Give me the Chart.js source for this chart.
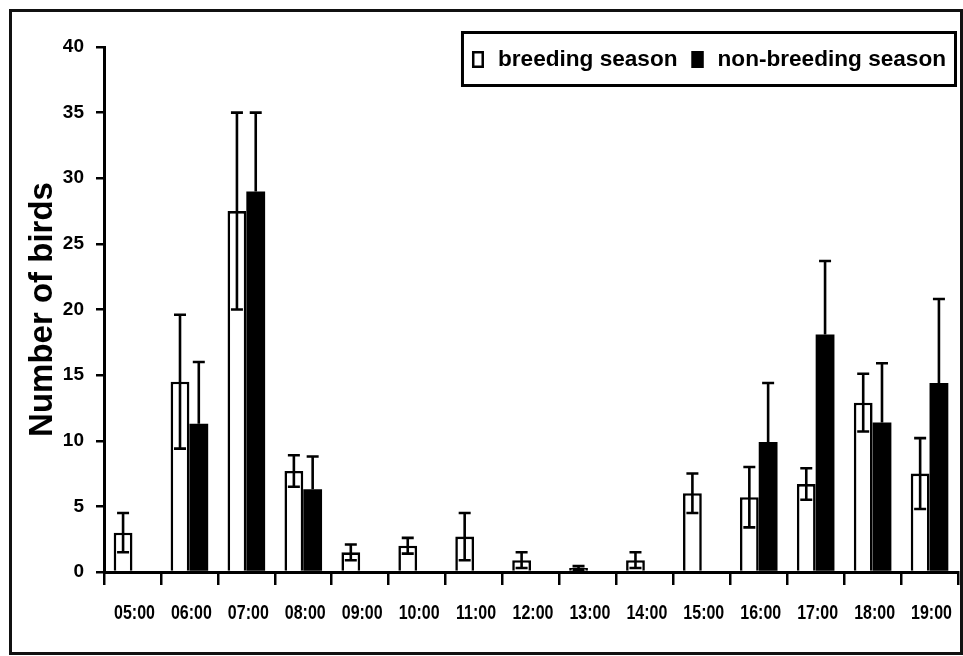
<!DOCTYPE html>
<html>
<head>
<meta charset="utf-8">
<script src="https://cdn.jsdelivr.net/npm/chart.js@4.4.0/dist/chart.umd.min.js"></script>
<style>
  body { margin: 0; background: #fff; }
  #wrap { position: relative; width: 963px; height: 656px; }
  #frame { position: absolute; left: 9px; top: 9px; width: 948px; height: 640px; border: 3px solid #111; pointer-events: none; }
  canvas { position: absolute; left: 0; top: 0; }
</style>
</head>
<body>
<div id="wrap">
  <canvas id="birdsChart" width="963" height="656"></canvas>
  <div id="frame"></div>
</div>
<script>
const hours = ['05:00', '06:00', '07:00', '08:00', '09:00', '10:00', '11:00', '12:00',
               '13:00', '14:00', '15:00', '16:00', '17:00', '18:00', '19:00'];
const breeding      = [3.0, 14.5, 27.5, 7.7, 1.5, 2.0, 2.7, 0.9, 0.3, 0.9, 6.0, 5.7, 6.7, 12.9, 7.5];
const breedingSd    = [1.5, 5.1, 7.5, 1.2, 0.6, 0.6, 1.8, 0.6, 0.15, 0.6, 1.5, 2.3, 1.2, 2.2, 2.7];
const nonBreeding   = [0, 11.3, 29.0, 6.3, 0, 0, 0, 0, 0, 0, 0, 9.9, 18.1, 11.4, 14.4];
const nonBreedingSd = [0, 4.7, 6.0, 2.5, 0, 0, 0, 0, 0, 0, 0, 4.5, 5.6, 4.5, 6.4];
const yTicks = [0, 5, 10, 15, 20, 25, 30, 35, 40];

const sans = "'Liberation Sans', Arial, sans-serif";

// error bars: breeding both ways, non-breeding only upward (lower half hidden in the black bar)
const errorBars = {
    id: 'errorBars',
    afterDatasetsDraw(chart) {
        const ctx = chart.ctx;
        const y = chart.scales.y;
        ctx.save();
        ctx.strokeStyle = '#000';
        ctx.lineWidth = 2.6;
        chart.data.datasets.forEach((ds, di) => {
            const meta = chart.getDatasetMeta(di);
            meta.data.forEach((bar, i) => {
                const sd = ds.errors[i];
                if (!sd) return;
                const v = ds.data[i];
                const top = y.getPixelForValue(v + sd);
                const bottom = ds.upOnly ? y.getPixelForValue(v) : y.getPixelForValue(v - sd);
                const cap = 6;
                ctx.beginPath();
                ctx.moveTo(bar.x, top);
                ctx.lineTo(bar.x, bottom);
                ctx.moveTo(bar.x - cap, top);
                ctx.lineTo(bar.x + cap, top);
                if (!ds.upOnly) {
                    ctx.moveTo(bar.x - cap, bottom);
                    ctx.lineTo(bar.x + cap, bottom);
                }
                ctx.stroke();
            });
        });
        ctx.restore();
    }
};

// hour labels in a condensed bold face (squeezed Liberation Sans)
const hourLabels = {
    id: 'hourLabels',
    afterDraw(chart) {
        const ctx = chart.ctx;
        const xs = chart.scales.x;
        ctx.save();
        ctx.font = 'bold 20px ' + sans;
        ctx.fillStyle = '#000';
        ctx.textAlign = 'center';
        ctx.textBaseline = 'middle';
        hours.forEach((h, i) => {
            ctx.save();
            ctx.translate(xs.getPixelForValue(i) + 2, chart.chartArea.bottom + 41);
            ctx.scale(0.8, 1);
            ctx.fillText(h, 0, 0);
            ctx.restore();
        });
        ctx.restore();
    }
};

// boxed legend in the top right corner of the plot
const boxedLegend = {
    id: 'boxedLegend',
    afterDraw(chart) {
        const ctx = chart.ctx;
        ctx.save();
        ctx.font = 'bold 22.6px ' + sans;
        const sq = 12, gap = 14, itemGap = 14, padL = 11, padR = 11;
        const items = chart.data.datasets.map(ds => ({
            text: ds.label, fill: ds.backgroundColor, w: ctx.measureText(ds.label).width
        }));
        let total = padL + padR;
        items.forEach((it, i) => { total += sq + gap + it.w + (i ? itemGap : 0); });
        const right = chart.chartArea.right - 1;
        const top = 31, h = 56;
        const left = right - total;
        const cy = top + h / 2 + 0.5;

        ctx.fillStyle = '#fff';
        ctx.fillRect(left, top, total, h);
        ctx.strokeStyle = '#000';
        ctx.lineWidth = 3;
        ctx.strokeRect(left + 1.5, top + 1.5, total - 3, h - 3);

        let x = left + padL;
        ctx.textBaseline = 'middle';
        items.forEach((it, i) => {
            if (i) x += itemGap;
            ctx.fillStyle = it.fill;
            ctx.fillRect(x, cy - 8.5, sq, 17);
            ctx.lineWidth = 2.5;
            ctx.strokeRect(x + 1.25, cy - 7.25, sq - 2.5, 14.5);
            x += sq + gap;
            ctx.fillStyle = '#000';
            ctx.fillText(it.text, x, cy);
            x += it.w;
        });
        ctx.restore();
    }
};

new Chart(document.getElementById('birdsChart'), {
    type: 'bar',
    data: {
        labels: hours,
        datasets: [{
            label: 'breeding season',
            data: breeding,
            errors: breedingSd,
            upOnly: false,
            backgroundColor: '#fff',
            borderColor: '#000',
            borderWidth: 2.6
        }, {
            label: 'non-breeding season',
            data: nonBreeding,
            errors: nonBreedingSd,
            upOnly: true,
            backgroundColor: '#000',
            borderColor: '#000',
            borderWidth: 0
        }]
    },
    options: {
        responsive: false,
        animation: false,
        devicePixelRatio: 1,
        categoryPercentage: 0.66,
        barPercentage: 1,
        layout: { padding: { top: 47, right: 5, left: 0, bottom: 0 } },
        plugins: {
            legend: { display: false },
            tooltip: { enabled: false }
        },
        scales: {
            x: {
                afterFit(scale) { scale.height = 84; },
                border: { color: '#000', width: 3 },
                grid: { drawOnChartArea: false, color: '#000', lineWidth: 2.5, tickLength: 13 },
                ticks: { display: false, autoSkip: false, maxRotation: 0 }
            },
            y: {
                min: 0,
                max: 40,
                afterFit(scale) { scale.width = 104; },
                afterBuildTicks(scale) { scale.ticks = yTicks.map(v => ({ value: v })); },
                border: { color: '#000', width: 3 },
                grid: { drawOnChartArea: false, color: '#000', lineWidth: 2.5, tickLength: 8 },
                ticks: {
                    color: '#000',
                    font: { family: sans, size: 19, weight: 'bold' },
                    padding: 12
                },
                title: {
                    display: true,
                    text: 'Number of birds',
                    color: '#000',
                    font: { family: sans, size: 33, weight: 'bold' },
                    padding: { top: 23, bottom: 0 }
                }
            }
        }
    },
    plugins: [errorBars, hourLabels, boxedLegend]
});
</script>
</body>
</html>
